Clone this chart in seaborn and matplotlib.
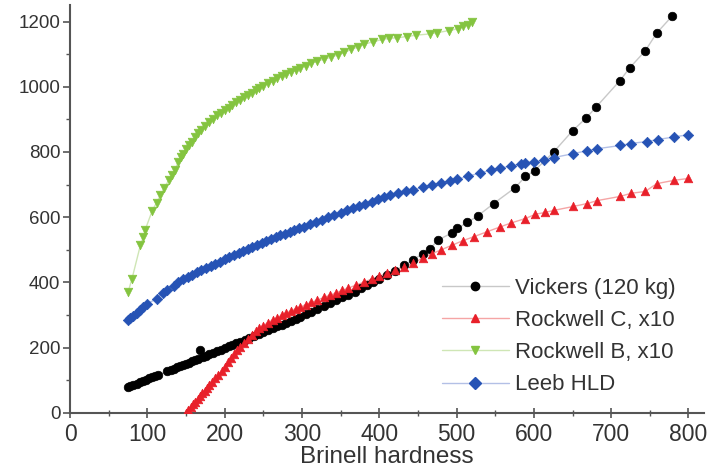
import matplotlib
matplotlib.use("Agg")
import matplotlib.pyplot as plt
import pandas as pd
import seaborn as sns
from matplotlib.lines import Line2D
from matplotlib.ticker import MultipleLocator

# Vickers (120 kg) vs Brinell
vick_x = [75, 78, 82, 86, 90, 94, 98, 102, 106, 110, 114, 126, 130, 134, 138, 142, 146, 150, 154,
          158, 162, 166, 168, 172, 176, 180, 185, 190, 195, 200, 205, 210, 215, 220, 226, 232, 238,
          244, 250, 256, 262, 268, 274, 280, 286, 292, 298, 305, 312, 320, 328, 336, 344, 352, 360,
          368, 376, 384, 392, 400, 410, 420, 432, 444, 456, 466, 476, 494, 501, 514, 528, 548, 576,
          589, 601, 626, 650, 668, 681, 711, 724, 744, 759, 779]
vick_y = [80, 83, 87, 90, 94, 98, 102, 106, 110, 114, 117, 128, 132, 136, 140, 143, 147, 150, 154,
          158, 162, 166, 192, 172, 176, 180, 184, 189, 194, 199, 204, 208, 213, 218, 224, 229, 235,
          241, 247, 253, 259, 265, 271, 277, 283, 289, 295, 302, 310, 318, 327, 336, 345, 354, 363,
          372, 382, 392, 401, 411, 423, 436, 452, 470, 488, 504, 530, 552, 566, 584, 605, 642, 691,
          725, 743, 801, 865, 905, 939, 1018, 1058, 1110, 1165, 1217]

# Rockwell C x10
rc_x = [150, 153, 156, 159, 162, 165, 168, 171, 174, 177, 180, 184, 188, 192, 196, 200, 204, 208,
        212, 216, 220, 225, 230, 235, 240, 245, 250, 256, 262, 268, 274, 280, 286, 292, 298, 305,
        312, 320, 328, 336, 344, 352, 360, 370, 380, 390, 400, 410, 420, 432, 444, 456, 468, 480,
        494, 508, 522, 540, 556, 570, 589, 602, 615, 626, 651, 669, 682, 712, 725, 744, 759, 781, 800]
rc_y = [0, 8, 17, 26, 35, 43, 51, 60, 68, 77, 85, 96, 106, 117, 128, 142, 155, 168,
        180, 192, 203, 215, 228, 240, 250, 259, 267, 277, 285, 292, 300, 307, 313, 319, 325, 332,
        339, 346, 354, 361, 368, 376, 383, 392, 401, 410, 419, 428, 437, 447, 459, 475, 488, 500,
        514, 528, 540, 556, 570, 582, 596, 609, 615, 621, 633, 642, 651, 664, 673, 679, 703, 713, 719]

# Rockwell B x10
rb_x = [75, 80, 91, 95, 97, 106, 112, 117, 122, 128, 132, 136, 140, 143, 146, 150, 154, 158, 162,
        166, 170, 175, 180, 185, 190, 195, 200, 205, 210, 215, 220, 225, 230, 235, 240, 245, 250,
        256, 262, 268, 274, 280, 286, 292, 298, 305, 312, 320, 328, 337, 346, 355, 364, 372, 380,
        392, 404, 412, 423, 436, 447, 466, 475, 490, 502, 508, 515, 520]
rb_y = [370, 410, 514, 540, 560, 618, 645, 667, 690, 715, 728, 745, 770, 785, 795, 808, 820, 832, 845,
        858, 868, 880, 892, 902, 912, 920, 928, 936, 945, 952, 960, 968, 975, 982, 990, 996, 1003,
        1010, 1018, 1026, 1034, 1040, 1046, 1052, 1058, 1065, 1072, 1078, 1085, 1090, 1098, 1105, 1115,
        1122, 1130, 1138, 1145, 1148, 1150, 1154, 1158, 1162, 1166, 1172, 1178, 1185, 1190, 1198]

# Leeb HLD
leeb_x = [75, 78, 82, 86, 90, 95, 100, 112, 120, 126, 134, 140, 146, 152, 158, 164, 170, 176, 182,
          188, 194, 200, 206, 212, 218, 224, 230, 236, 242, 248, 254, 260, 266, 272, 278, 284, 290,
          296, 302, 310, 318, 326, 334, 342, 350, 358, 366, 374, 382, 390, 398, 406, 414, 424, 434,
          444, 456, 468, 480, 492, 501, 515, 530, 544, 556, 570, 583, 589, 600, 613, 626, 651, 669,
          682, 712, 725, 746, 760, 781, 800]
leeb_y = [284, 290, 297, 305, 315, 325, 335, 350, 368, 378, 390, 400, 410, 417, 424, 431, 437, 444, 450,
          457, 463, 472, 478, 484, 490, 496, 503, 509, 515, 521, 527, 533, 539, 545, 550, 555, 560,
          566, 571, 578, 585, 592, 600, 607, 614, 621, 628, 635, 642, 648, 655, 661, 667, 673, 679,
          684, 692, 699, 705, 711, 716, 726, 735, 744, 750, 757, 763, 766, 770, 774, 783, 795, 804,
          810, 820, 826, 832, 838, 846, 853]

series = [
    ("Vickers (120 kg)", vick_x, vick_y, "#000000", "#c8c8c8", "o"),
    ("Rockwell C, x10", rc_x, rc_y, "#e8202a", "#f5a5a5", "^"),
    ("Rockwell B, x10", rb_x, rb_y, "#84c440", "#cfe6b5", "v"),
    ("Leeb HLD", leeb_x, leeb_y, "#2653b5", "#b3c0e6", "D"),
]

sns.set_style("white")
plt.rcParams["font.family"] = ["Liberation Sans", "DejaVu Sans"]

fig, ax = plt.subplots(figsize=(7.22, 4.73), dpi=100)
fig.subplots_adjust(left=0.097, right=0.975, bottom=0.127, top=0.989)

handles = []
for name, xs, ys, color, lcolor, mk in series:
    df = pd.DataFrame({"x": xs, "y": ys})
    sns.lineplot(data=df, x="x", y="y", ax=ax, color=lcolor, linewidth=1.0,
                 sort=False, estimator=None)
    ms = 28 if mk == "D" else 38
    sns.scatterplot(data=df, x="x", y="y", ax=ax, color=color, marker=mk, s=ms,
                    edgecolor=color, linewidth=0.5, zorder=3)
    handles.append(Line2D([0], [0], color=lcolor, lw=1.0, marker=mk, markersize=6,
                          markerfacecolor=color, markeredgecolor=color, label=name))

ax.set_xlim(0, 820)
ax.set_ylim(0, 1250)
ax.xaxis.set_major_locator(MultipleLocator(100))
ax.xaxis.set_minor_locator(MultipleLocator(50))
ax.yaxis.set_major_locator(MultipleLocator(200))
ax.yaxis.set_minor_locator(MultipleLocator(100))
ax.set_yticks([0, 200, 400, 600, 800, 1000, 1200])

for s in ["top", "right"]:
    ax.spines[s].set_visible(False)
for s in ["left", "bottom"]:
    ax.spines[s].set_color("#555555")
    ax.spines[s].set_linewidth(1.5)

ax.tick_params(axis="x", which="major", direction="inout", length=7, width=1.2,
               color="#555555", labelsize=16.5, labelcolor="#333333", pad=4)
ax.tick_params(axis="x", which="minor", direction="inout", length=4, width=1.0, color="#555555")
ax.tick_params(axis="y", which="major", direction="out", length=5, width=1.2,
               color="#555555", labelsize=13.5, labelcolor="#333333", pad=2)
ax.tick_params(axis="y", which="minor", direction="out", length=3, width=1.0, color="#555555")
ax.tick_params(bottom=True, left=True, which="both")

ax.set_xlabel("Brinell hardness", fontsize=17.5, color="#333333", labelpad=0)
ax.set_ylabel("")

ax.legend(handles=handles, loc="upper left", bbox_to_anchor=(0.555, 0.38), frameon=False,
          fontsize=16, handlelength=3.0, handletextpad=0.3, labelspacing=0.5,
          labelcolor="#333333")

fig.savefig("out.png", dpi=100)
